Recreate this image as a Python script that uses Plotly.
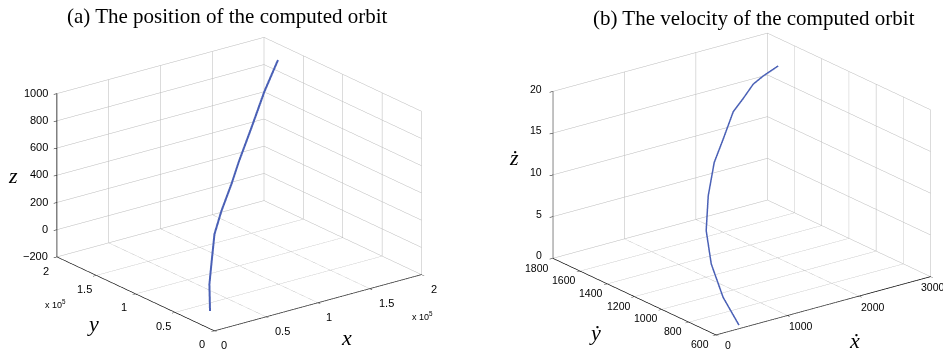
import plotly.graph_objects as go

# ---- data: (a) position of the computed orbit ----
pos_x = [14000, 18000, 24000, 32000, 44000, 62000, 80000, 110000, 144000, 180000]
pos_y = [24000, 30000, 35000, 42000, 49000, 60000, 74000, 98000, 126000, 156000]
pos_z = [-148, 25, 168, 331, 456, 586, 680, 793, 917, 994]

# ---- data: (b) velocity of the computed orbit ----
vel_x = [357, 394, 416, 467, 600, 813, 1081, 1467, 1711, 2007, 2202, 2478]
vel_y = [619, 755, 854, 918, 973, 1041, 1116, 1245, 1300, 1382, 1411, 1446]
vel_z = [0.2, 2.4, 5.6, 9.0, 12.4, 15.4, 17.0, 18.4, 19.0, 19.4, 19.7, 20.0]

# ---- ticks and tick labels ----
pos_xy_ticks = [0, 50000, 100000, 150000, 200000]
pos_xy_text = ["0", "0.5", "1", "1.5", "2"]
pos_z_ticks = [-200, 0, 200, 400, 600, 800, 1000]
pos_z_text = ["\u2212200", "0", "200", "400", "600", "800", "1000"]
vel_x_ticks = [0, 1000, 2000, 3000]
vel_y_ticks = [600, 800, 1000, 1200, 1400, 1600, 1800]
vel_z_ticks = [0, 5, 10, 15, 20]

pos_xr, pos_yr, pos_zr = [0, 200000], [0, 200000], [-200, 1000]
vel_xr, vel_yr, vel_zr = [0, 3000], [600, 1800], [0, 20]

TITLE_FONT = "Liberation Serif, Times New Roman, serif"
TICK_FONT = "Liberation Sans, Arial, sans-serif"
LINE_COLOR = "#4a60b6"


def axis(rng, tickvals):
    return dict(
        title=dict(text=""),
        range=rng,
        tickvals=tickvals,
        showticklabels=False,
        showbackground=False,
        showgrid=True,
        gridcolor="#b8b8b8",
        gridwidth=1,
        zeroline=False,
        showline=True,
        linecolor="black",
        linewidth=1.5,
        ticks="inside",
        ticklen=4,
        tickcolor="black",
        showspikes=False,
        autorange=False,
    )


def inside(v, rng):
    # keep annotation anchor points strictly inside the axis range
    eps = (rng[1] - rng[0]) * 0.002
    return min(max(v, rng[0] + eps), rng[1] - eps)


fig = go.Figure()
fig.add_trace(go.Scatter3d(x=pos_x, y=pos_y, z=pos_z, mode="lines",
                           line=dict(color=LINE_COLOR, width=4), scene="scene",
                           showlegend=False, hoverinfo="skip"))
fig.add_trace(go.Scatter3d(x=vel_x, y=vel_y, z=vel_z, mode="lines",
                           line=dict(color=LINE_COLOR, width=3), scene="scene2",
                           showlegend=False, hoverinfo="skip"))

eye_dir = (-0.565, -0.743, 0.357)


def camera(r, c):
    return dict(eye=dict(x=c[0] + eye_dir[0] * r, y=c[1] + eye_dir[1] * r,
                         z=c[2] + eye_dir[2] * r),
                center=dict(x=c[0], y=c[1], z=c[2]),
                up=dict(x=0, y=0, z=1),
                projection=dict(type="orthographic"))


def ann(x, y, z, text, dx, dy, size=11, family=TICK_FONT, xanchor="center"):
    return dict(x=x, y=y, z=z, text=text, showarrow=False,
                font=dict(family=family, size=size, color="black"),
                xshift=dx, yshift=dy, xanchor=xanchor, yanchor="middle")


def tick_anns(xr, yr, zr, xt, xl, yt, yl, zt, zl, xs, ys, zs, size):
    out = []
    for i, (v, t) in enumerate(zip(xt, xl)):
        out.append(ann(inside(v, xr), inside(yr[0], yr), inside(zr[0], zr), t,
                       xs[0][i], xs[1], size))
    for v, t in zip(yt, yl):
        out.append(ann(inside(xr[0], xr), inside(v, yr), inside(zr[0], zr), t,
                       ys[0], ys[1], size))
    for v, t in zip(zt, zl):
        out.append(ann(inside(xr[0], xr), inside(yr[1], yr), inside(v, zr), t,
                       zs[0], zs[1], size, xanchor="right"))
    return out


ann1 = tick_anns(pos_xr, pos_yr, pos_zr,
                 pos_xy_ticks, pos_xy_text, pos_xy_ticks, pos_xy_text,
                 pos_z_ticks, pos_z_text, ([10, 17, 12, 17, 14], -15), (-12, -14), (-8, 1), 11)
ann1 += [
    ann(inside(pos_xr[1], pos_xr), inside(pos_yr[0], pos_yr), inside(pos_zr[0], pos_zr),
        "x 10<sup>5</sup>", 2, -42, 9),
    ann(inside(pos_xr[0], pos_xr), 150000, inside(pos_zr[0], pos_zr),
        "x 10<sup>5</sup>", -41, -29, 9),
    ann(100000, inside(pos_yr[0], pos_yr), inside(pos_zr[0], pos_zr),
        "<i>x</i>", 29, -35, 22, TITLE_FONT),
    ann(inside(pos_xr[0], pos_xr), 100000, inside(pos_zr[0], pos_zr),
        "<i>y</i>", -43, -30, 22, TITLE_FONT),
    ann(inside(pos_xr[0], pos_xr), inside(pos_yr[1], pos_yr), 400,
        "<i>z</i>", -45, 0, 22, TITLE_FONT),
]

vel_x_text = [str(v) for v in vel_x_ticks]
vel_y_text = [str(v) for v in vel_y_ticks]
vel_z_text = [str(v) for v in vel_z_ticks]
ann2 = tick_anns(vel_xr, vel_yr, vel_zr,
                 vel_x_ticks, vel_x_text, vel_y_ticks, vel_y_text,
                 vel_z_ticks, vel_z_text, ([12, 14, 14, 3], -11), (-16, -9.5), (-9, 3), 10.5)
ann2 += [
    ann(1500, inside(vel_yr[0], vel_yr), inside(vel_zr[0], vel_zr),
        "<i>\u1e8b</i>", 32, -35, 22, TITLE_FONT),
    ann(inside(vel_xr[0], vel_xr), 1200, inside(vel_zr[0], vel_zr),
        "<i>\u1e8f</i>", -40, -36, 22, TITLE_FONT),
    ann(inside(vel_xr[0], vel_xr), inside(vel_yr[1], vel_yr), 10,
        "<i>\u017c</i>", -39, 17, 22, TITLE_FONT),
]

s1 = 1.535
s2 = 1.59

fig.update_layout(
    width=951, height=353,
    margin=dict(l=0, r=0, t=0, b=0),
    paper_bgcolor="white",
    scene=dict(
        domain=dict(x=[0.0, 0.5], y=[0.0, 0.96]),
        xaxis=axis(pos_xr, pos_xy_ticks),
        yaxis=axis(pos_yr, pos_xy_ticks),
        zaxis=axis(pos_zr, pos_z_ticks),
        aspectmode="manual",
        aspectratio=dict(x=s1, y=s1, z=0.672 * s1),
        camera=camera(1.9, (0.026, -0.032, -0.043)),
        annotations=ann1,
    ),
    scene2=dict(
        domain=dict(x=[0.52, 1.0], y=[0.0, 0.96]),
        xaxis=axis(vel_xr, vel_x_ticks),
        yaxis=axis(vel_yr, vel_y_ticks),
        zaxis=axis(vel_zr, vel_z_ticks),
        aspectmode="manual",
        aspectratio=dict(x=s2, y=s2, z=0.663 * s2),
        camera=camera(1.9, (-0.060, 0.0255, -0.041)),
        annotations=ann2,
    ),
    annotations=[
        dict(x=219 / 951, y=1 - 8 / 353, xref="paper", yref="paper",
             text="(a) The position of the computed orbit", showarrow=False,
             xanchor="center", yanchor="middle",
             font=dict(family=TITLE_FONT, size=21, color="black")),
        dict(x=746 / 951, y=1 - 10 / 353, xref="paper", yref="paper",
             text="(b) The velocity of the computed orbit", showarrow=False,
             xanchor="center", yanchor="middle",
             font=dict(family=TITLE_FONT, size=21, color="black")),
    ],
)

fig.write_html("out.html", config=dict(displayModeBar=False))
